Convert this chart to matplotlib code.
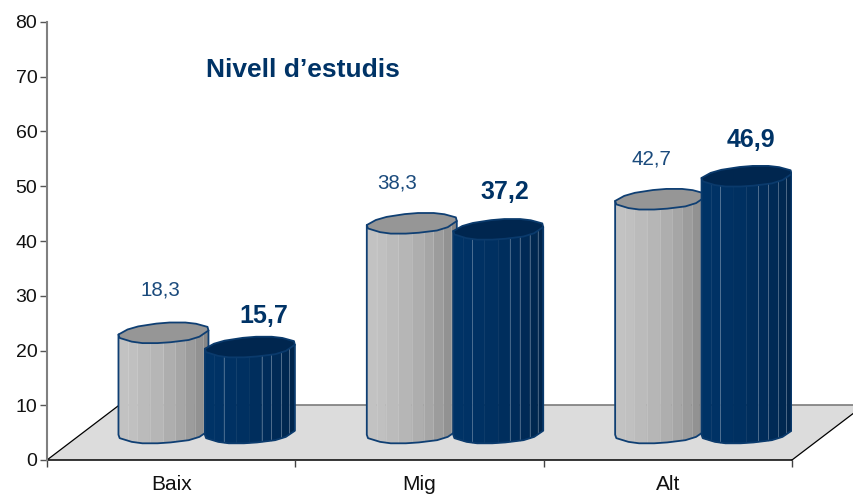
import numpy as np
import matplotlib
matplotlib.use("Agg")
import matplotlib.pyplot as plt
from matplotlib.patches import Polygon

categories = ["Baix", "Mig", "Alt"]
grey_values = [18.3, 38.3, 42.7]
blue_values = [15.7, 37.2, 46.9]
grey_labels = ["18,3", "38,3", "42,7"]
blue_labels = ["15,7", "37,2", "46,9"]
y_ticks = [0, 10, 20, 30, 40, 50, 60, 70, 80]
title = "Nivell d\u2019estudis"

# layout (pixels of the label from the top of its cylinder)
grey_offsets = [(-3.5, 43), (-15, 40.5), (-9, 40)]
blue_offsets = [(14, 31), (6.5, 37.5), (4.5, 36.5)]
W, H = 854, 497
PX_Y = 438 / 80
PX_X = 745 / 3
BASE = 27 / PX_Y
GREY_X, BLUE_X = 0.469, 0.817
EDGE = "#0f3f73"
BLUE_EDGE = "#0a3a6c"
NAVY = "#003366"
# cylinder cross-section, an octagon, pixels from its centre (y upward)
CORNER_X = np.array([-45, -30, 0, 26, 45, 30, 0, -25], float)
CORNER_Y = np.array([-3.7, 5.3, 10.3, 10.3, 4.7, -6.3, -10.3, -10.3])
STRIPES = np.array([0, .11, .21, .35, .50, .63, .74, .85, .94, 1.0])
GREY_SEAMS = [1, 2, 3, 4, 5, 6, 7, 8]
BLUE_SEAMS = [2, 5, 6, 7, 8]


def cut_corners(x, y, r=0.22):
    nx, ny = np.roll(x, -1), np.roll(y, -1)
    ox = np.column_stack([x + r * (nx - x), x + (1 - r) * (nx - x)]).ravel()
    oy = np.column_stack([y + r * (ny - y), y + (1 - r) * (ny - y)]).ravel()
    return ox, oy


SHAPE_X, SHAPE_Y = cut_corners(CORNER_X, CORNER_Y)
SHAPE_X = SHAPE_X * 45 / np.abs(SHAPE_X).max()
# lower edge: from the leftmost point round the bottom to the rightmost point
_left = int(np.argmin(SHAPE_X))
_right = int(np.argmax(SHAPE_X))
_order = [(_right + k) % len(SHAPE_X) for k in range(len(SHAPE_X))]
_order = _order[:((_left - _right) % len(SHAPE_X)) + 1]
LOWER_X = SHAPE_X[_order][::-1]
LOWER_Y = SHAPE_Y[_order][::-1]

plt.rcParams["font.family"] = ["Liberation Sans", "DejaVu Sans"]
fig = plt.figure(figsize=(W / 100, H / 100), dpi=100, facecolor="white")
ax = fig.add_axes([47 / W, 37 / H, 745 / W, 438 / H])
ax.set_xlim(0, 3)
ax.set_ylim(0, 80)
ax.patch.set_visible(False)

# floor
d = 72 / PX_X
ax.add_patch(Polygon([(0, 0), (3, 0), (3 + d, 10), (d, 10)], closed=True,
                     facecolor="#dcdcdc", edgecolor="none", clip_on=False, zorder=1))
ax.plot([d, 3 + d], [10, 10], color="#707070", lw=1.1, clip_on=False, zorder=1.1)
ax.plot([0, d], [0, 10], color="black", lw=0.9, clip_on=False, zorder=1.1)
ax.plot([3, 3 + d], [0, 10], color="black", lw=0.9, clip_on=False, zorder=1.1)


def mix(c1, c2, f):
    a = np.array(matplotlib.colors.to_rgb(c1))
    b = np.array(matplotlib.colors.to_rgb(c2))
    return a + (b - a) * f


def cylinder(cx, value, light, dark, top, z, seam_color, seams, edge, alpha):
    ex = cx + SHAPE_X / PX_X
    ey = SHAPE_Y / PX_Y
    y0, y1 = BASE, BASE + value
    sx = LOWER_X.min() + (LOWER_X.max() - LOWER_X.min()) * STRIPES
    sy = np.interp(sx, LOWER_X, LOWER_Y) / PX_Y
    xs = cx + sx / PX_X
    n = len(xs) - 1
    lower = list(zip(cx + LOWER_X / PX_X, y0 + LOWER_Y / PX_Y))
    for i in range(n):
        c = mix(light, dark, (i / (n - 1)) ** 1.6)
        # follow the lower edge exactly inside each stripe
        inner = np.linspace(sx[i], sx[i + 1], 6)
        iy = np.interp(inner, LOWER_X, LOWER_Y) / PX_Y
        px = cx + inner / PX_X
        pts = list(zip(px, y0 + iy)) + list(zip(px[::-1], (y1 + iy)[::-1]))
        ax.add_patch(Polygon(pts, closed=True, facecolor=c, edgecolor=c, lw=0.3, zorder=z))
    for i in seams:
        ax.plot([xs[i], xs[i]], [y0 + sy[i], y1 + sy[i]], color=seam_color,
                lw=0.6, alpha=alpha, zorder=z + 0.1)
    right_i, left_i = _right, _left
    outline = lower + [(ex[right_i], y1 + ey[right_i]), (ex[left_i], y1 + ey[left_i])]
    ax.add_patch(Polygon(outline, closed=True, facecolor="none", edgecolor=edge,
                         lw=1.3, zorder=z + 0.2, joinstyle="round"))
    ax.add_patch(Polygon(list(zip(ex, y1 + ey)), closed=True, facecolor=top, edgecolor=edge,
                         lw=1.3, zorder=z + 0.3, joinstyle="round"))


for i, (gv, bv) in enumerate(zip(grey_values, blue_values)):
    cylinder(i + GREY_X, gv, "#c2c2c2", "#868686", "#969696", 2 + i, "#dedede", GREY_SEAMS, EDGE, 0.3)
    cylinder(i + BLUE_X, bv, "#003366", "#00254c", "#00264f", 2.5 + i, "#9fb2c6", BLUE_SEAMS, BLUE_EDGE, 0.5)
    ax.annotate(grey_labels[i], (i + GREY_X, BASE + gv), xycoords="data",
                xytext=(grey_offsets[i][0] * 0.72, grey_offsets[i][1] * 0.72),
                textcoords="offset points", ha="center", va="center",
                fontsize=14.8, color="#1a4a7c", zorder=10)
    ax.annotate(blue_labels[i], (i + BLUE_X, BASE + bv), xycoords="data",
                xytext=(blue_offsets[i][0] * 0.72, blue_offsets[i][1] * 0.72),
                textcoords="offset points", ha="center", va="center",
                fontsize=18, fontweight="bold", color=NAVY, zorder=10)

fig.text(303 / W, 1 - 70 / H, title, ha="center", va="center", fontsize=19,
         fontweight="bold", color=NAVY)

for s in ("top", "right"):
    ax.spines[s].set_visible(False)
ax.spines["left"].set_color("#808080")
ax.spines["left"].set_linewidth(1.5)
ax.spines["left"].set_bounds(0, 80)
ax.spines["bottom"].set_color("black")
ax.spines["bottom"].set_linewidth(1.1)
ax.spines["left"].set_zorder(20)
ax.spines["bottom"].set_zorder(1.2)

ax.set_yticks(y_ticks)
ax.tick_params(axis="y", length=5, width=1, color="#555555", pad=2, labelsize=14, labelcolor="#111111")
ax.set_xticks([0, 1, 2, 3])
ax.set_xticklabels([])
ax.tick_params(axis="x", which="major", length=5, width=1, color="#444444")
ax.set_xticks([0.5, 1.5, 2.5], minor=True)
ax.set_xticklabels(categories, minor=True)
ax.tick_params(axis="x", which="minor", length=0, pad=11, labelsize=15, labelcolor="#111111")

fig.savefig("out.png", dpi=100)
